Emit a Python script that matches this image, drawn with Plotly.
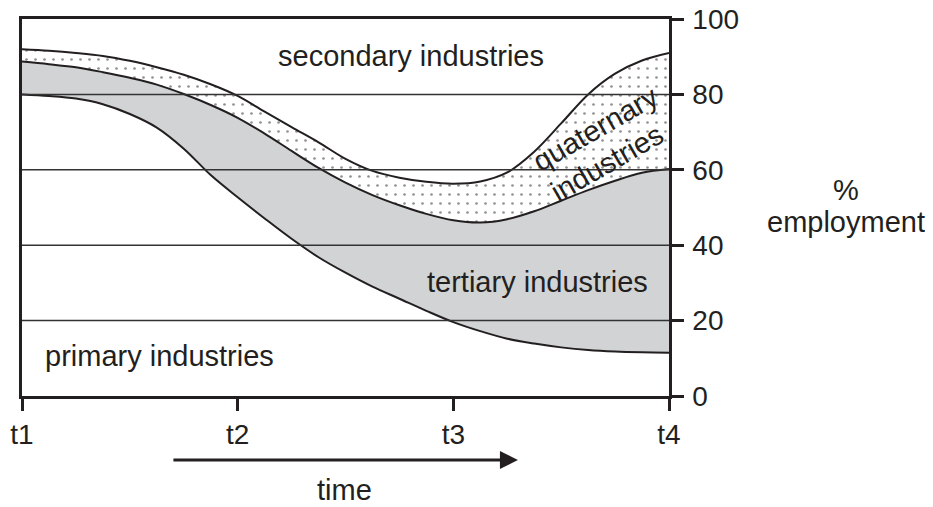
import plotly.graph_objects as go

# time positions (t1=0 ... t4=3)
t = [0, 0.125, 0.25, 0.375, 0.5, 0.625, 0.75, 0.875, 1.0, 1.125, 1.25, 1.375, 1.5,
     1.625, 1.75, 1.875, 2.0, 2.125, 2.25, 2.375, 2.5, 2.625, 2.75, 2.875, 3.0]
# cumulative % employment boundaries
primary_top = [80.0, 79.6, 78.9, 77.4, 74.8, 71.2, 65.6, 58.6, 52.7, 47.1, 41.7, 36.8, 32.7,
               29.0, 25.8, 22.6, 19.6, 17.2, 15.2, 13.9, 12.9, 12.2, 11.8, 11.6, 11.5]
tertiary_top = [88.7, 88.0, 87.2, 85.9, 84.4, 82.6, 80.1, 77.2, 73.8, 69.6, 65.0, 60.5, 56.6,
                53.3, 50.6, 48.3, 46.6, 46.0, 46.9, 49.0, 51.8, 54.6, 57.1, 59.2, 60.2]
quaternary_top = [92.0, 91.6, 91.0, 90.2, 88.9, 87.2, 85.2, 82.7, 79.6, 75.4, 71.3, 67.3, 62.9,
                  59.7, 57.9, 56.8, 56.3, 56.9, 59.3, 64.8, 72.3, 80.0, 85.5, 89.0, 91.0]

x_tickvals = [0, 1, 2, 3]
x_ticktext = ["t1", "t2", "t3", "t4"]
y_tickvals = [0, 20, 40, 60, 80, 100]
grid_vals = [20, 40, 60, 80]

INK = "#231f20"
GRAY = "#d1d3d4"
FONT = "Liberation Sans, Arial, sans-serif"
FS = 29
TFS = 28

fig = go.Figure()
line_style = dict(color=INK, width=2, shape="spline", smoothing=1.0)
fig.add_trace(go.Scatter(x=t, y=primary_top, mode="lines", line=line_style,
                         hoverinfo="skip", showlegend=False))
fig.add_trace(go.Scatter(x=t, y=tertiary_top, mode="lines", fill="tonexty", fillcolor=GRAY,
                         line=line_style, hoverinfo="skip", showlegend=False))
fig.add_trace(go.Scatter(x=t, y=quaternary_top, mode="lines", fill="tonexty",
                         fillcolor="white",
                         fillpattern=dict(shape=".", size=9, solidity=0.07,
                                          fgcolor=INK, bgcolor="white"),
                         line=line_style, hoverinfo="skip", showlegend=False))

shapes = []
for g in grid_vals:
    shapes.append(dict(type="line", xref="paper", x0=0, x1=1, yref="y", y0=g, y1=g,
                       line=dict(color="#333333", width=1.5), layer="above"))

C = dict(showarrow=False, xanchor="center", yanchor="middle")
annotations = [
    dict(x=1.805, y=90.2, xref="x", yref="y", text="secondary industries", **C),
    dict(x=0.638, y=10.6, xref="x", yref="y", text="primary industries", **C),
    dict(x=2.39, y=30.2, xref="x", yref="y", text="tertiary industries", **C),
    dict(x=2.657, y=70.8, xref="x", yref="y", text="quaternary", textangle=-30, **C),
    dict(x=2.712, y=61.8, xref="x", yref="y", text="industries", textangle=-30, **C),
    dict(x=1.273, y=0.546, xref="paper", yref="paper", text="%", **C),
    dict(x=1.274, y=0.4615, xref="paper", yref="paper", text="employment", **C),
    dict(x=0.499, y=-0.25, xref="paper", yref="paper", text="time", **C),
    dict(x=0.7665, y=-0.1698, xref="paper", yref="paper", text="", showarrow=True,
         axref="pixel", ayref="pixel", ax=-346, ay=0, arrowhead=2, arrowsize=1.2,
         arrowwidth=3, arrowcolor=INK, standoff=0),
]

# page body has an 8px default margin; compensate so the plot box sits at 22..669 x 19..396
fig.update_layout(
    width=933, height=507,
    margin=dict(l=14, r=272, t=11, b=119),
    paper_bgcolor="white", plot_bgcolor="white",
    font=dict(family=FONT, size=FS, color=INK),
    shapes=shapes, annotations=annotations,
    xaxis=dict(range=[0, 3], tickvals=x_tickvals, ticktext=x_ticktext,
               ticks="outside", ticklen=12, tickwidth=2.5, tickcolor=INK,
               showline=True, linecolor=INK, linewidth=2.5, mirror=True,
               showgrid=False, zeroline=False, tickfont=dict(size=TFS, color=INK),
               fixedrange=True, automargin=False, ticklabeloverflow="allow"),
    yaxis=dict(range=[0, 100], tickvals=y_tickvals, side="right",
               ticks="outside", ticklen=12, tickwidth=2.5, tickcolor=INK,
               showline=True, linecolor=INK, linewidth=2.5, mirror=True,
               showgrid=False, zeroline=False, tickfont=dict(size=TFS, color=INK),
               fixedrange=True, automargin=False, ticklabeloverflow="allow",
               ticklabelstandoff=3),
)

fig.write_html("out.html")
